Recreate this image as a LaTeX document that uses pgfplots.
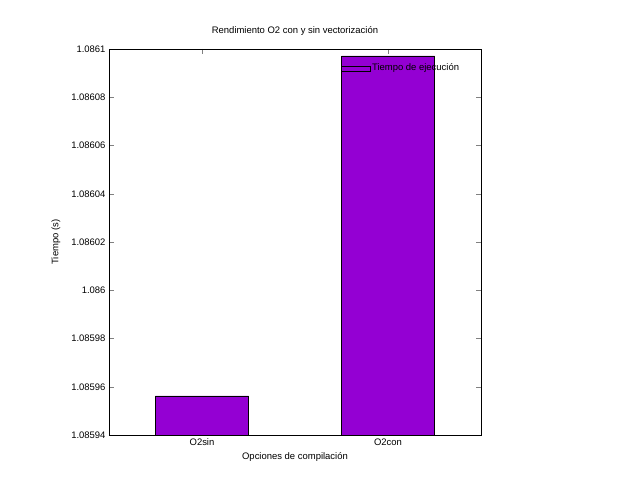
\documentclass[border=0pt]{standalone}
\usepackage{pgfplots}
\pgfplotsset{compat=1.18}
\usepackage{fontspec}
\setmainfont{Liberation Sans}
\definecolor{gpv}{HTML}{9400D3}
\begin{document}
\begin{tikzpicture}
\useasboundingbox (-109bp,-49bp) rectangle (531bp,435bp);
\begin{axis}[
  scale only axis, width=372bp, height=386bp,
  at={(0,0)}, anchor=south west,
  xmin=-0.5, xmax=1.5, ymin=1.08594, ymax=1.0861,
  xtick={0,1}, xticklabels={O2sin,O2con},
  ytick={1.08594,1.08596,1.08598,1.086,1.08602,1.08604,1.08606,1.08608,1.0861},
  yticklabels={1.08594,1.08596,1.08598,1.086,1.08602,1.08604,1.08606,1.08608,1.0861},
  tick align=inside, tick pos=both, major tick length=5bp,
  font=\fontsize{9.5}{11}\selectfont,
  title={Rendimiento O2 con y sin vectorización},
  title style={yshift=4bp},
  xlabel={Opciones de compilación}, ylabel={Tiempo (s)},
  ylabel style={yshift=4bp},
  legend style={draw=none, fill=none, at={(0.955,0.972)}, anchor=north east, font=\fontsize{9.5}{11}\selectfont, legend cell align=right},
  legend image code/.code={\draw[fill=gpv,draw=black] (0cm,-0.09cm) rectangle (1.0cm,0.07cm);},
  legend reversed,
]
\addplot[ybar, bar width=93bp, fill=gpv, draw=black, bar shift=0pt, legend pos=north east] coordinates {(0,1.0859562) (1,1.0860971)};
\addlegendentry{Tiempo de ejecución}
\end{axis}
\end{tikzpicture}
\end{document}
